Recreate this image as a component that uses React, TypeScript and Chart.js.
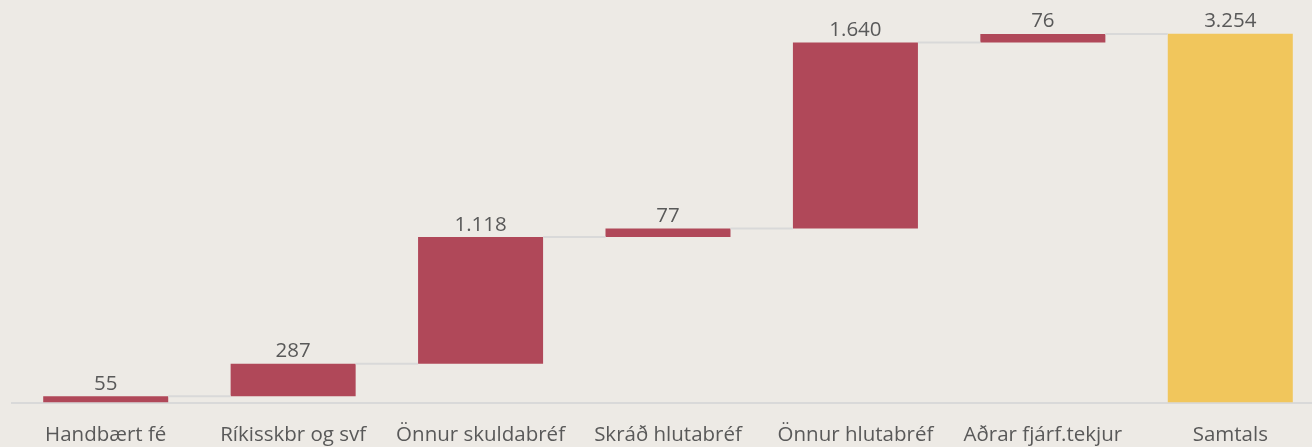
import React, { useEffect, useRef } from "react";
import { Chart, registerables } from "chart.js";

Chart.register(...registerables);

const categories = [
  "Handbært fé",
  "Ríkisskbr og svf",
  "Önnur skuldabréf",
  "Skráð hlutabréf",
  "Önnur hlutabréf",
  "Aðrar fjárf.tekjur",
  "Samtals",
];
const values = [55, 287, 1118, 77, 1640, 76, 3254];
const isTotal = [false, false, false, false, false, false, true];

const RED = "rgb(176,72,89)";
const YELLOW = "rgb(241,198,92)";
const BG = "rgb(237,234,229)";
const TEXT = "#595959";
const LINE = "#D9D9D9";
const FONT = "'Open Sans', sans-serif";
const FONT_SIZE = 20.5;

function buildRanges(): [number, number][] {
  const out: [number, number][] = [];
  let cum = 0;
  values.forEach((v, i) => {
    if (isTotal[i]) {
      out.push([0, v]);
    } else {
      out.push([cum, cum + v]);
      cum += v;
    }
  });
  return out;
}

function fmt(v: number): string {
  return String(v).replace(/\B(?=(\d{3})+(?!\d))/g, ".");
}

const waterfallPlugin = {
  id: "waterfallDecor",
  afterDatasetsDraw(chart: any) {
    const ctx = chart.ctx;
    const meta = chart.getDatasetMeta(0);
    const ranges = chart.data.datasets[0].data as [number, number][];
    const y = chart.scales.y;
    ctx.save();
    // connectors
    ctx.strokeStyle = LINE;
    ctx.lineWidth = 2;
    for (let i = 0; i < meta.data.length - 1; i++) {
      const a = meta.data[i] as any;
      const b = meta.data[i + 1] as any;
      const level = ranges[i][1];
      const py = y.getPixelForValue(level);
      ctx.beginPath();
      ctx.moveTo(a.x + a.width / 2, py);
      ctx.lineTo(b.x - b.width / 2, py);
      ctx.stroke();
    }
    // labels
    ctx.fillStyle = TEXT;
    ctx.font = `${FONT_SIZE}px ${FONT}`;
    ctx.textAlign = "center";
    ctx.textBaseline = "alphabetic";
    meta.data.forEach((el: any, i: number) => {
      const top = y.getPixelForValue(ranges[i][1]);
      ctx.fillText(fmt(values[i]), el.x, top - 6.5);
    });
    ctx.restore();
  },
};

export default function App() {
  const ref = useRef<HTMLCanvasElement | null>(null);
  useEffect(() => {
    if (!ref.current) return;
    const chart = new Chart(ref.current, {
      type: "bar",
      data: {
        labels: categories,
        datasets: [
          {
            data: buildRanges() as any,
            backgroundColor: values.map((_, i) => (isTotal[i] ? YELLOW : RED)),
            borderWidth: 0,
            barPercentage: 0.667,
            categoryPercentage: 1,
          },
        ],
      },
      options: {
        animation: false,
        responsive: true,
        maintainAspectRatio: false,
        layout: { padding: { left: 12, right: 0, top: 6, bottom: 0 } },
        plugins: { legend: { display: false }, tooltip: { enabled: false } },
        scales: {
          x: {
            grid: { display: false, drawTicks: false },
            border: { display: true, color: LINE, width: 2 },
            ticks: {
              color: TEXT,
              font: { family: FONT, size: FONT_SIZE, lineHeight: 1 },
              padding: 22,
              maxRotation: 0,
              autoSkip: false,
            },
          },
          y: {
            display: false,
            min: 0,
            max: 3500,
          },
        },
      },
      plugins: [waterfallPlugin],
    });
    return () => chart.destroy();
  }, []);
  return (
    <div
      style={{
        position: "fixed",
        left: 0,
        top: 0,
        width: 1312,
        height: 447,
        overflow: "hidden",
        background: BG,
      }}
    >
      <div style={{ position: "absolute", left: 0, top: 0, width: 1324, height: 467 }}>
        <canvas ref={ref} />
      </div>
    </div>
  );
}
